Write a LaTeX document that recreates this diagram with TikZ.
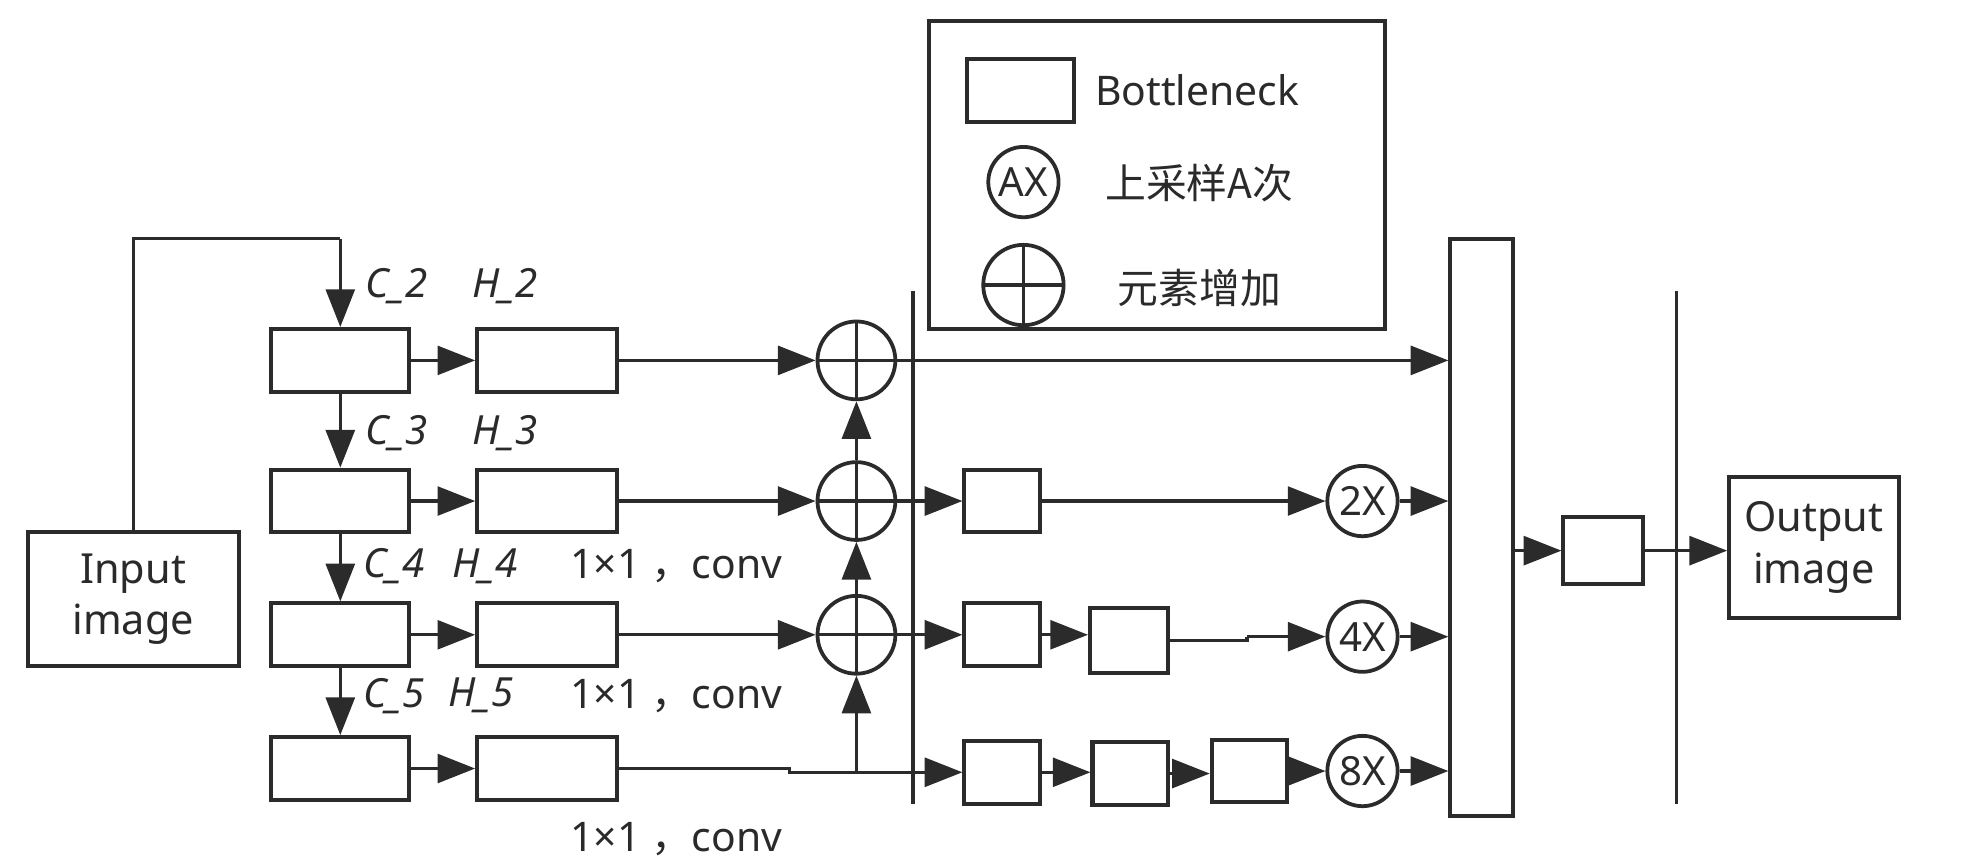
\documentclass[tikz,border=0pt]{standalone}
\usepackage{fontspec}
\setmainfont{Noto Sans}
\newfontfamily\cjk{Noto Sans CJK SC}
\usetikzlibrary{arrows.meta,calc}
\definecolor{ink}{HTML}{2B2B2B}
\definecolor{txt}{HTML}{2A2A2A}
\tikzset{
  bx/.style={draw=ink,line width=3.2pt,inner sep=0pt,fill=white},
  ln/.style={draw=ink,line width=2.5pt},
  arr/.style={ln,-{Triangle[length=30pt,width=23pt]}},
  plus/.style={draw=ink,line width=3pt,circle,minimum size=62pt,inner sep=0pt,
    path picture={\draw[ink,line width=2.6pt] (path picture bounding box.north) -- (path picture bounding box.south)
      (path picture bounding box.west) -- (path picture bounding box.east);}},
  upc/.style={draw=ink,line width=3pt,circle,minimum size=56pt,inner sep=0pt,font=\fontsize{32}{34}\selectfont,text=txt},
  lab/.style={anchor=west,inner sep=0pt,text=txt,font=\fontsize{32.5}{34}\selectfont},
  ilab/.style={lab,font=\fontsize{32}{34}\selectfont\itshape},
}
\begin{document}
\begin{tikzpicture}[x=1pt,y=-1pt]
\useasboundingbox (0,0) rectangle (1568,690);
% input / output
\node[bx,minimum width=168pt,minimum height=106pt,align=center,text=txt,font=\fontsize{33}{41}\selectfont] (in) at (106,477) {Input\\image};
\node[bx,minimum width=135pt,minimum height=112pt,align=center,text=txt,font=\fontsize{33}{42}\selectfont] (out) at (1444.5,436) {Output\\image};
% column boxes
\foreach \i/\y in {1/287,2/399,3/505.5,4/612}{
  \node[bx,minimum width=110pt,minimum height=50pt] (a\i) at (271,\y) {};
  \node[bx,minimum width=111pt,minimum height=50pt] (b\i) at (435.5,\y) {};
}
% plus circles
\node[plus] (p1) at (682,287) {};
\node[plus] (p2) at (682,399) {};
\node[plus] (p3) at (682,505.5) {};
\coordinate (j) at (682,615);
\coordinate (s4a) at (629,612);
\coordinate (s4b) at (629,615);
% vertical separator lines
\coordinate (v1t) at (727,232); \coordinate (v1b) at (727,640);
\coordinate (v2t) at (1335,232); \coordinate (v2b) at (1335,640);
\draw[ln] (v1t) -- (v1b);
\draw[ln] (v2t) -- (v2b);
% right-side bottlenecks
\node[bx,minimum width=60pt,minimum height=50pt] (r2a) at (798,399) {};
\node[bx,minimum width=60pt,minimum height=50pt] (r3a) at (798,505.5) {};
\node[bx,minimum width=62pt,minimum height=52pt] (r3b) at (899,510) {};
\node[bx,minimum width=60pt,minimum height=50pt] (r4a) at (798,615) {};
\node[bx,minimum width=60pt,minimum height=50pt] (r4b) at (900,616) {};
\node[bx,minimum width=60pt,minimum height=50pt] (r4c) at (995,614) {};
% upsample circles
\node[upc] (u2) at (1085,399) {2X};
\node[upc] (u4) at (1085,507) {4X};
\node[upc] (u8) at (1085,614) {8X};
\coordinate (s3a) at (993,510);
\coordinate (s3b) at (993,507);
% tall concat box
\node[bx,minimum width=50pt,minimum height=460pt] (tall) at (1180,420) {};
\node[bx,minimum width=63pt,minimum height=53pt] (sm) at (1276.5,438.5) {};
% legend
\node[bx,minimum width=363pt,minimum height=245pt] (leg) at (921.5,139.5) {};
\node[bx,minimum width=85pt,minimum height=50pt] (lgb) at (812.5,72) {};
\node[upc] (lgu) at (815,145) {AX};
\node[plus,minimum size=64pt] (lgp) at (815,227) {};
\node[lab] (lgt1) at (872,72) {Bottleneck};
\node[lab,font=\fontsize{32.5}{34}\selectfont\cjk] (lgt2) at (880,146) {上采样A次};
\node[lab,font=\fontsize{32.5}{34}\selectfont\cjk] (lgt3) at (890,229) {元素增加};
% input loop
\coordinate (lpA) at (106,190);
\coordinate (lpB) at (271,190);
\draw[ln] (in.north) -- (lpA) -- (lpB);
\draw[arr] (lpB) -- (a1.north);
% column-1 vertical arrows and horizontal arrows
\foreach \i/\k in {1/2,2/3,3/4}{ \draw[arr] (a\i.south) -- (a\k.north); }
\foreach \i in {1,2,3,4}{ \draw[arr] (a\i.east) -- (b\i.west); }
\foreach \i in {1,2,3}{ \draw[arr] (b\i.east) -- (p\i.west); }
\draw[ln] (b4.east) -- (s4a) -- (s4b) -- (j);
\draw[arr] (j) -- (j -| r4a.west);
\draw[arr] (j) -- (p3.south);
\draw[arr] (p3.north) -- (p2.south);
\draw[arr] (p2.north) -- (p1.south);
% row 1
\draw[arr] (p1.east) -- (tall.west |- p1.east);
% row 2
\draw[arr] (p2.east) -- (r2a.west);
\draw[arr] (r2a.east) -- (u2.west);
\draw[arr] (u2.east) -- (tall.west |- u2.east);
% row 3
\draw[arr] (p3.east) -- (r3a.west);
\draw[arr] (r3a.east) -- (r3a.east -| r3b.west);
\draw[ln] (r3b.east) -- (s3a) -- (s3b);
\draw[arr] (s3b) -- (u4.west);
\draw[arr] (u4.east) -- (tall.west |- u4.east);
% row 4
\draw[arr] (r4a.east) -- (r4a.east -| r4b.west);
\draw[arr] (r4b.east) -- (r4b.east -| r4c.west);
\draw[arr] (r4c.east) -- (u8.west);
\draw[arr] (u8.east) -- (tall.west |- u8.east);
% output
\draw[arr] (tall.east |- sm.west) -- (sm.west);
\draw[arr] (sm.east) -- (out.west |- sm.east);
% labels
\node[ilab] (c2) at (291,228) {C\_2};
\node[ilab] (h2) at (376,228) {H\_2};
\node[ilab] (c3) at (291,345) {C\_3};
\node[ilab] (h3) at (376,345) {H\_3};
\node[ilab] (c4) at (289,451) {C\_4};
\node[ilab] (h4) at (360,451) {H\_4};
\node[lab] (k4) at (454,451) {1×1 {\cjk ，}conv};
\node[ilab] (c5) at (289,554) {C\_5};
\node[ilab] (h5) at (357,554) {H\_5};
\node[lab] (k5) at (454,554) {1×1 {\cjk ，}conv};
\node[lab] (k6) at (454,668) {1×1 {\cjk ，}conv};
\end{tikzpicture}
\end{document}
